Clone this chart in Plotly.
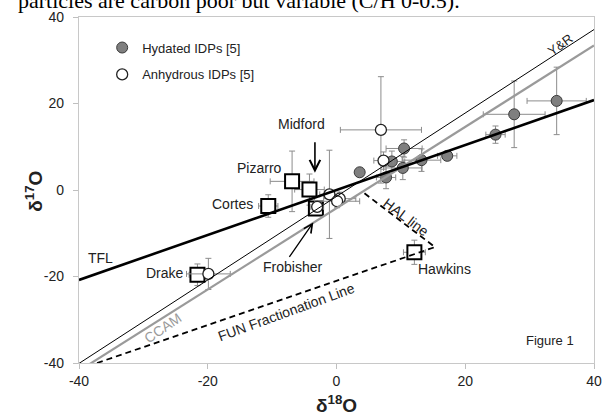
import plotly.graph_objects as go

# ---- data ----
hyd_x = [3.6, 7.7, 8.6, 10.3, 10.5, 13.2, 17.2, 24.7, 27.6, 34.2]
hyd_y = [4.1, 2.9, 6.6, 5.1, 9.6, 6.9, 7.9, 12.8, 17.5, 20.6]
hyd_xerr = [0.0, 1.5, 2.0, 3.0, 2.8, 3.0, 1.5, 1.5, 4.8, 4.6]
hyd_yerr = [0.0, 2.6, 2.4, 2.7, 2.0, 2.6, 1.0, 2.0, 7.7, 7.8]

anh_x = [6.9, 7.3, -1.1, 0.5, 0.1, -3.0, -19.9]
anh_y = [13.9, 6.8, -1.0, -2.0, -2.6, -3.9, -19.4]
anh_xerr = [6.3, 1.5, 1.5, 2.5, 3.5, 1.0, 3.4]
anh_yerr = [12.3, 2.0, 10.2, 1.5, 1.5, 1.0, 3.6]

sample_names = ["Drake", "Cortes", "Pizarro", "Midford", "Frobisher", "Hawkins"]
sample_x = [-21.6, -10.6, -6.9, -4.2, -3.2, 12.1]
sample_y = [-19.6, -3.7, 2.0, 0.1, -4.3, -14.4]
sample_xerr = [1.3, 1.5, 3.4, 2.3, 1.0, 1.7]
sample_yerr = [2.5, 2.6, 7.0, 3.6, 1.2, 2.8]

tfl_x = [-40, 40]
tfl_y = [-20.8, 20.8]
yr_x = [-40, 40]
yr_y = [-40.1, 37.1]
ccam_x = [-40, 40]
ccam_y = [-41.8, 33.4]
fun_hal_x = [-37.2, 15.3, 4.2]
fun_hal_y = [-40.0, -13.2, -0.6]

x_ticks = [-40, -20, 0, 20, 40]
x_tick_text = ["-40", "-20", "0", "20", "40"]
y_ticks = [-40, -20, 0, 20, 40]
y_tick_text = ["-40", "-20", "0", "20", "40"]

ERR = "#8c8c8c"
FONT = "Liberation Sans, Arial, sans-serif"

fig = go.Figure()

fig.add_trace(go.Scatter(
    x=sample_x, y=sample_y, mode="markers", showlegend=False,
    marker=dict(symbol="square", size=14, color="white",
                line=dict(color="black", width=2)),
    error_x=dict(type="data", array=sample_xerr, color=ERR, thickness=1, width=3),
    error_y=dict(type="data", array=sample_yerr, color=ERR, thickness=1, width=3),
))

fig.add_trace(go.Scatter(
    x=hyd_x, y=hyd_y, mode="markers", name="Hydated IDPs [5]",
    legendgroup="a",
    marker=dict(symbol="circle", size=11, color="#7f7f7f",
                line=dict(color="#3a3a3a", width=1)),
    error_x=dict(type="data", array=hyd_xerr, color=ERR, thickness=1, width=3),
    error_y=dict(type="data", array=hyd_yerr, color=ERR, thickness=1, width=3),
))

fig.add_trace(go.Scatter(
    x=anh_x, y=anh_y, mode="markers", name="Anhydrous IDPs [5]",
    legendgroup="b",
    marker=dict(symbol="circle", size=11, color="white",
                line=dict(color="#222222", width=1.3)),
    error_x=dict(type="data", array=anh_xerr, color=ERR, thickness=1, width=3),
    error_y=dict(type="data", array=anh_yerr, color=ERR, thickness=1, width=3),
))

fig.add_trace(go.Scatter(x=yr_x, y=yr_y, mode="lines", showlegend=False,
                         line=dict(color="black", width=1)))
fig.add_trace(go.Scatter(x=ccam_x, y=ccam_y, mode="lines", showlegend=False,
                         line=dict(color="#9a9a9a", width=2.2)))
fig.add_trace(go.Scatter(x=tfl_x, y=tfl_y, mode="lines", showlegend=False,
                         line=dict(color="black", width=2.6)))
fig.add_trace(go.Scatter(x=fun_hal_x, y=fun_hal_y, mode="lines", showlegend=False,
                         line=dict(color="black", width=1.8, dash="6px,4px")))

ann = []
def label(text, x, y, size=14, color="#222", angle=0, xanchor="center"):
    ann.append(dict(text=text, x=x, y=y, xref="x", yref="y", showarrow=False,
                    textangle=angle, xanchor=xanchor, yanchor="middle",
                    font=dict(family=FONT, size=size, color=color)))

label("Drake", -26.6, -19.3)
label("Cortes", -16.2, -3.2)
label("Pizarro", -12.0, 5.2)
label("Midford", -5.5, 15.2)
label("Frobisher", -6.9, -17.7)
label("Hawkins", 12.4, -18.2, xanchor="left")
label("TFL", -36.7, -15.7)
label("Figure 1", 33.2, -34.8, size=13)
label("Y&R", 34.8, 33.6, size=13, angle=-36)
label("CCAM", -27.0, -31.8, color="#9a9a9a", angle=-34)
label("FUN Fractionation Line", -7.8, -28.1, angle=-20)
label("HAL line", 10.8, -6.2, angle=37)

# arrows
ann.append(dict(x=-3.35, y=4.0, xref="x", yref="y", ax=0, ay=-32,
                showarrow=True, arrowhead=5, arrowsize=1.3, arrowwidth=1.6,
                arrowcolor="black", text=""))
ann.append(dict(x=-3.6, y=-7.5, xref="x", yref="y", ax=-25, ay=36,
                showarrow=True, arrowhead=5, arrowsize=1.3, arrowwidth=1.3,
                arrowcolor="black", text=""))

# axis titles
ann.append(dict(text="<b>δ<sup>18</sup>O</b>", x=0.5, y=-0.118, xref="paper",
                yref="paper", showarrow=False, xanchor="center", yanchor="middle",
                font=dict(family=FONT, size=19, color="#222")))
ann.append(dict(text="<b>δ<sup>17</sup>O</b>", x=-0.088, y=0.497, xref="paper",
                yref="paper", showarrow=False, xanchor="center", yanchor="middle",
                textangle=-90, font=dict(family=FONT, size=19, color="#222")))

# cropped heading text from the page above the chart
ann.append(dict(text="particles are carbon poor but variable (C/H 0-0.5).",
                x=-0.1223, y=1.047, xref="paper", yref="paper", showarrow=False,
                xanchor="left", yanchor="middle",
                font=dict(family="Liberation Serif, Times New Roman, serif",
                          size=22, color="black")))

fig.update_layout(
    width=608, height=413,
    margin=dict(l=78.5, r=14.2, t=16.7, b=49.7),
    paper_bgcolor="white", plot_bgcolor="white",
    annotations=ann,
    showlegend=True,
    legend=dict(x=0.045, y=0.955, xanchor="left", yanchor="top",
                bgcolor="rgba(0,0,0,0)", tracegroupgap=7,
                traceorder="grouped",
                font=dict(family=FONT, size=13, color="#222")),
    xaxis=dict(range=[-40, 40], tickvals=x_ticks, ticktext=x_tick_text,
               ticks="outside", ticklen=5, automargin=False,
               tickcolor="#bfbfbf", showgrid=False, zeroline=False,
               showline=True, linecolor="#c8c8c8", linewidth=1.2, mirror=True,
               tickfont=dict(family=FONT, size=14, color="#222")),
    yaxis=dict(range=[-40, 40], tickvals=y_ticks, ticktext=y_tick_text,
               ticks="outside", ticklen=5, automargin=False,
               tickcolor="#bfbfbf", showgrid=False, zeroline=False,
               showline=True, linecolor="#c8c8c8", linewidth=1.2, mirror=True,
               ticklabelstandoff=6,
               tickfont=dict(family=FONT, size=14, color="#222")),
)

fig.write_html("out.html", config={"displayModeBar": False},
               post_script="document.body.style.margin='0';document.body.style.padding='0';")
